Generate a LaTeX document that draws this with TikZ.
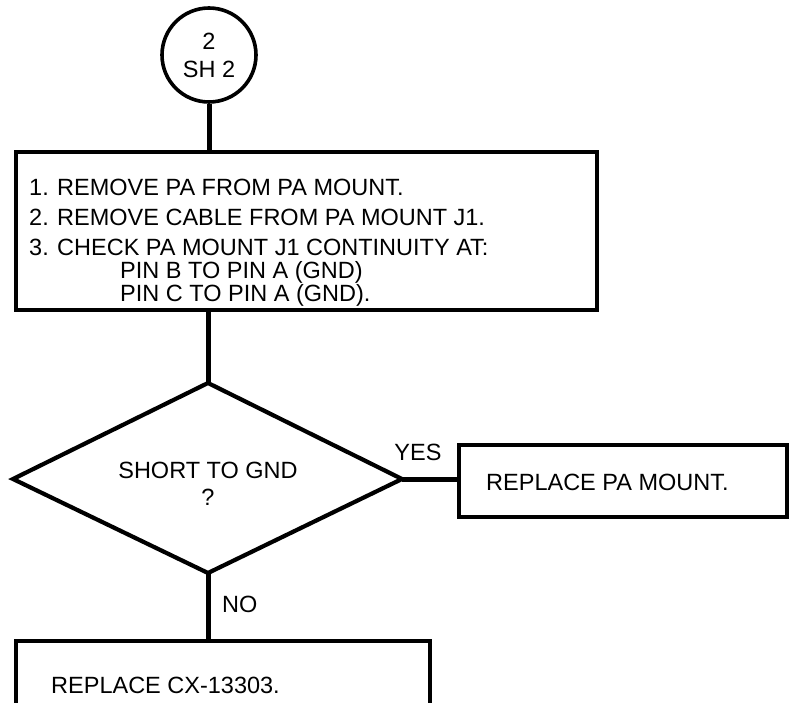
\documentclass[tikz,border=0pt]{standalone}
\usepackage{fontspec}
\setmainfont{Liberation Sans}
\usetikzlibrary{calc}
\begin{document}
\begin{tikzpicture}[x=1pt,y=-1pt]
\useasboundingbox (0,0) rectangle (790,703);
\tikzset{
  frame/.style={draw, line width=4.2pt, inner sep=0pt},
  link/.style={line width=5pt},
  ttwo/.style={font=\fontsize{23.5}{23.5}\selectfont, inner sep=0pt},
  tone/.style={ttwo, anchor=base west},
}
% connector circle
\node[frame, circle, line width=3.6pt, minimum size=94pt] (c) at (209,55) {};
\node[ttwo, anchor=base] (c1) at (209,50) {2};
\node[ttwo, anchor=base] (c2) at (209,78) {SH 2};
% first box
\node[frame, minimum width=581pt, minimum height=158pt] (b1) at (306.5,231) {};
\node[tone] (n1) at (29,196) {1.};
\node[tone] (s1) at (57,196) {REMOVE PA FROM PA MOUNT.};
\node[tone] (n2) at (29,226) {2.};
\node[tone] (s2) at (57,226) {REMOVE CABLE FROM PA MOUNT J1.};
\node[tone] (n3) at (29,256) {3.};
\node[tone] (s3) at (57,256) {CHECK PA MOUNT J1 CONTINUITY AT:};
\node[tone] (p1) at (120,279) {PIN B TO PIN A (GND)};
\node[tone] (p2) at (120,302) {PIN C TO PIN A (GND).};
% decision diamond
\coordinate (dT) at (208,383);
\coordinate (dB) at (208,573);
\coordinate (dL) at (13,479);
\coordinate (dR) at (402,479);
\draw[line width=4.2pt, line join=miter] (dT) -- (dR) -- (dB) -- (dL) -- cycle;
\node[ttwo, anchor=base] (q1) at (208,478) {SHORT TO GND};
\node[ttwo, anchor=base] (q2) at (208,505) {?};
% yes box
\node[frame, minimum width=328pt, minimum height=72pt] (b2) at (623,481) {};
\node[ttwo, anchor=base west] (r2) at (486,490) {REPLACE PA MOUNT.};
\node[ttwo, anchor=base] (yes) at (418,460) {YES};
% no box
\node[frame, minimum width=414pt, minimum height=69pt] (b3) at (223,675.5) {};
\node[ttwo, anchor=base west] (r3) at (51,693) {REPLACE CX-13303.};
\node[ttwo, anchor=base west] (no) at (222,612) {NO};
% connectors
\draw[link] (c.south) -- (c.south |- b1.north);
\draw[link] (dT |- b1.south) -- (dT);
\draw[link] (dR) -- (b2.west |- dR);
\draw[link] (dB) -- (dB |- b3.north);
\end{tikzpicture}
\end{document}
